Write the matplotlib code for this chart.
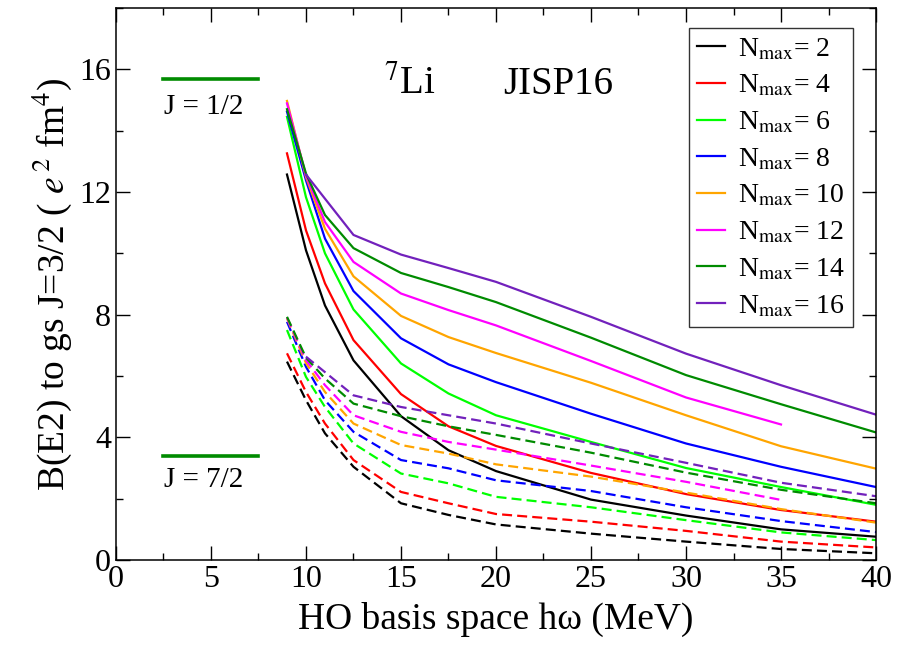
import numpy as np
import matplotlib
matplotlib.use("Agg")
import matplotlib.pyplot as plt
from matplotlib.ticker import MultipleLocator

plt.rcParams['font.family'] = ['Liberation Serif', 'DejaVu Serif']
plt.rcParams['mathtext.fontset'] = 'stix'

# HO energies (MeV); Nmax=16 runs were only done from 10 MeV on
hw = [9, 10, 11, 12.5, 15, 17.5, 20, 25, 30, 35, 40]
hw16 = [10, 12.5, 15, 17.5, 20, 25, 30, 35, 40]

nmax_list = [2, 4, 6, 8, 10, 12, 14, 16]
colors = ['black', '#ff0000', '#00ff00', '#0000ff', '#ffa500', '#ff00ff', '#008b00', '#7221bc']

# B(E2) to the 1/2- state (solid lines), e^2 fm^4
be2_half = {
    2: [12.57, 10.10, 8.30, 6.51, 4.69, 3.58, 2.90, 1.97, 1.45, 1.00, 0.76],
    4: [13.26, 10.75, 9.02, 7.17, 5.41, 4.36, 3.72, 2.84, 2.15, 1.63, 1.25],
    6: [14.45, 11.83, 10.00, 8.17, 6.41, 5.43, 4.72, 3.85, 3.00, 2.38, 1.80],
    8: [14.62, 12.38, 10.48, 8.77, 7.23, 6.38, 5.80, 4.77, 3.80, 3.04, 2.38],
    10: [14.97, 12.49, 10.80, 9.25, 7.96, 7.27, 6.75, 5.78, 4.72, 3.71, 2.98],
    12: [14.89, 12.54, 11.02, 9.72, 8.69, 8.15, 7.65, 6.49, 5.30, 4.42, np.nan],
    14: [14.70, 12.60, 11.25, 10.17, 9.36, 8.90, 8.41, 7.25, 6.03, 5.08, 4.16],
    16: [12.57, 10.60, 9.96, 9.52, 9.07, 7.93, 6.73, 5.70, 4.74],
}

# B(E2) to the 7/2- state (dashed lines)
be2_7half = {
    2: [6.47, 5.21, 4.13, 3.04, 1.85, 1.47, 1.16, 0.86, 0.60, 0.36, 0.22],
    4: [6.74, 5.48, 4.45, 3.26, 2.22, 1.85, 1.50, 1.25, 0.95, 0.60, 0.41],
    6: [7.50, 5.97, 4.99, 3.80, 2.82, 2.50, 2.06, 1.72, 1.30, 0.90, 0.65],
    8: [7.77, 6.30, 5.21, 4.18, 3.26, 2.99, 2.60, 2.25, 1.72, 1.27, 0.91],
    10: [7.88, 6.42, 5.48, 4.45, 3.75, 3.47, 3.12, 2.72, 2.20, 1.66, 1.22],
    12: [7.90, 6.52, 5.70, 4.72, 4.18, 3.85, 3.60, 3.08, 2.55, 1.96, np.nan],
    14: [7.93, 6.60, 5.92, 5.10, 4.69, 4.36, 4.08, 3.50, 2.85, 2.29, 1.85],
    16: [6.63, 5.37, 4.99, 4.72, 4.45, 3.80, 3.17, 2.52, 2.08],
}

# experimental values
exp_half = 15.67
exp_7half = 3.39

fig = plt.figure(figsize=(9.09, 6.46), dpi=100)
ax = fig.add_axes([0.1276, 0.1331, 0.8361, 0.8545])

for n, c in zip(nmax_list, colors):
    x = hw16 if n == 16 else hw
    ax.plot(x, be2_half[n], color=c, lw=1.6, label=r'N$_{\rm max}$= %d' % n)
    ax.plot(x, be2_7half[n], color=c, lw=1.6, dashes=(4.5, 2.3))

ax.plot([2.5, 7.5], [exp_half, exp_half], color='#008b00', lw=2.6)
ax.plot([2.5, 7.5], [exp_7half, exp_7half], color='#008b00', lw=2.6)
ax.text(2.55, 14.77, 'J = 1/2', fontsize=21, va='center', ha='left')
ax.text(2.55, 2.61, 'J = 7/2', fontsize=21, va='center', ha='left')

ax.text(14.1, 15.2, r'$^{7}$Li', fontsize=28, va='baseline')
ax.text(20.4, 15.2, 'JISP16', fontsize=28, va='baseline')

ax.set_xlim(0, 40)
ax.set_ylim(0, 18)
ax.xaxis.set_major_locator(MultipleLocator(5))
ax.xaxis.set_minor_locator(MultipleLocator(2.5))
ax.yaxis.set_major_locator(MultipleLocator(4))
ax.yaxis.set_minor_locator(MultipleLocator(2))
ax.tick_params(which='both', direction='in', top=True, right=True, labelsize=23, width=1)
ax.tick_params(which='major', length=10)
ax.tick_params(which='minor', length=5)
for sp in ax.spines.values():
    sp.set_linewidth(1.1)

ax.set_xlabel('HO basis space hω (MeV)', fontsize=27, labelpad=6)
ax.set_ylabel(r'B(E2) to gs J=3/2 ( $e^{\,2}$ fm$^{4}$)', fontsize=27, labelpad=4)

leg = ax.legend(loc='upper right', bbox_to_anchor=(0.9697, 0.9638), borderaxespad=0,
                fontsize=20, handlelength=1.0, labelspacing=0.4, fancybox=False,
                frameon=True, edgecolor='black', handletextpad=0.45, borderpad=0.3)
leg.get_frame().set_linewidth(1.0)

fig.savefig('out.png', dpi=100)
